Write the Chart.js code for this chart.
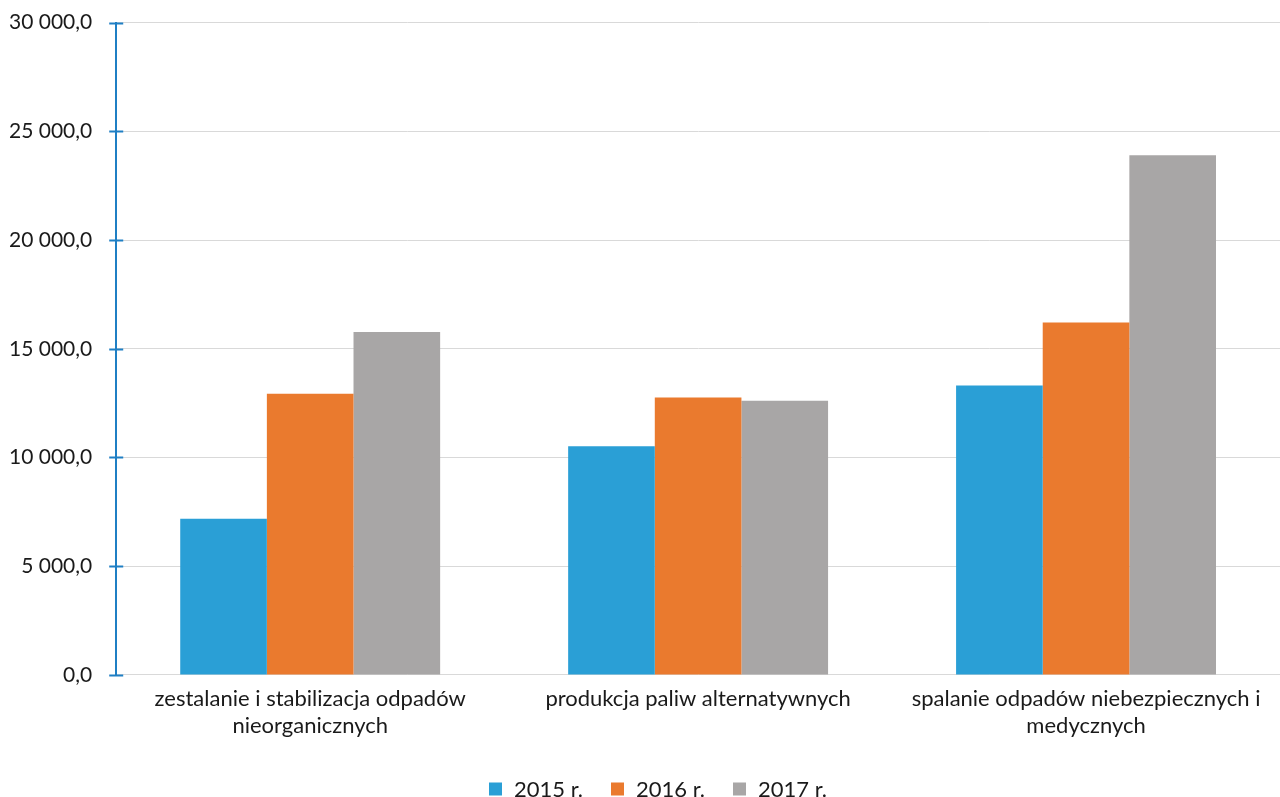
<!DOCTYPE html>
<html>
<head>
<meta charset="utf-8">
<script src="https://cdn.jsdelivr.net/npm/chart.js@4/dist/chart.umd.min.js"></script>
<style>
  html, body { margin: 0; padding: 0; background: #ffffff; }
  #wrap { width: 1280px; height: 797px; position: relative; }
</style>
</head>
<body>
<div id="wrap"><canvas id="c" width="1280" height="797"></canvas></div>
<script>
// Categories (two-line labels) and yearly values
const categories = [
  ['zestalanie i stabilizacja odpadów', 'nieorganicznych'],
  ['produkcja paliw alternatywnych'],
  ['spalanie odpadów niebezpiecznych i', 'medycznych']
];
const years = ['2015 r.', '2016 r.', '2017 r.'];
const values2015 = [7180, 10510, 13310];
const values2016 = [12930, 12760, 16210];
const values2017 = [15770, 12610, 23900];
const yTicks = [0, 5000, 10000, 15000, 20000, 25000, 30000];

const colors = ['#2a9fd6', '#ea7a2e', '#a8a6a6'];
const FONT = 'Lato, "Open Sans", sans-serif';
const TEXT = '#1a1a1a';

// Polish number format: space thousands separator, comma decimal
function fmt(v) {
  const s = Math.abs(v).toFixed(1).split('.');
  const int = s[0].replace(/\B(?=(\d{3})+(?!\d))/g, ' ');
  return (v < 0 ? '-' : '') + int + ',' + s[1];
}

// Short blue tick marks crossing the value axis
const axisTicks = {
  id: 'axisTicks',
  afterDraw(chart) {
    const y = chart.scales.y;
    const ctx = chart.ctx;
    ctx.save();
    ctx.strokeStyle = '#1f7fc4';
    ctx.lineWidth = 2;
    y.ticks.forEach(t => {
      const py = Math.round(y.getPixelForValue(t.value)) + 0.5;
      ctx.beginPath();
      ctx.moveTo(y.right - 7, py);
      ctx.lineTo(y.right + 7, py);
      ctx.stroke();
    });
    ctx.restore();
  }
};

// Legend row along the bottom edge, built from the chart's datasets
const bottomLegend = {
  id: 'bottomLegend',
  afterDraw(chart) {
    const ctx = chart.ctx;
    const box = 13, gapText = 12, gapItem = 28;
    ctx.save();
    ctx.font = '22px ' + FONT;
    ctx.textBaseline = 'middle';
    const items = chart.data.datasets.map(ds => ({
      label: ds.label, color: ds.backgroundColor, w: ctx.measureText(ds.label).width
    }));
    const total = items.reduce((a, it) => a + box + gapText + it.w, 0) + gapItem * (items.length - 1);
    let x = chart.width / 2 + 18 - total / 2;
    const cy = 789;
    items.forEach(it => {
      ctx.fillStyle = it.color;
      ctx.fillRect(x, cy - box / 2, box, box);
      x += box + gapText;
      ctx.fillStyle = TEXT;
      ctx.fillText(it.label, x, cy + 1);
      x += it.w + gapItem;
    });
    ctx.restore();
  }
};

new Chart(document.getElementById('c'), {
  type: 'bar',
  data: {
    labels: categories,
    datasets: [
      { label: years[0], data: values2015, backgroundColor: colors[0] },
      { label: years[1], data: values2016, backgroundColor: colors[1] },
      { label: years[2], data: values2017, backgroundColor: colors[2] }
    ]
  },
  options: {
    responsive: false,
    animation: false,
    layout: { padding: { top: 0, right: -3, left: -1, bottom: 56 } },
    datasets: { bar: { categoryPercentage: 0.67, barPercentage: 1.0 } },
    scales: {
      x: {
        grid: { display: false },
        border: { display: false },
        ticks: { color: TEXT, font: { family: FONT, size: 22, lineHeight: 1.23 }, padding: 2, maxRotation: 0, autoSkip: false }
      },
      y: {
        min: 0, max: 30000,
        afterBuildTicks(axis) { axis.ticks = yTicks.map(v => ({ value: v })); },
        grid: { color: '#d9d9d9', lineWidth: 1, drawTicks: true, tickLength: 14, tickColor: 'rgba(0,0,0,0)' },
        border: { display: true, color: '#1f7fc4', width: 2 },
        ticks: {
          color: TEXT, font: { family: FONT, size: 21 }, padding: 10,
          callback: v => fmt(v)
        }
      }
    },
    plugins: {
      legend: { display: false },
      tooltip: { enabled: false }
    }
  },
  plugins: [axisTicks, bottomLegend]
});
</script>
</body>
</html>
